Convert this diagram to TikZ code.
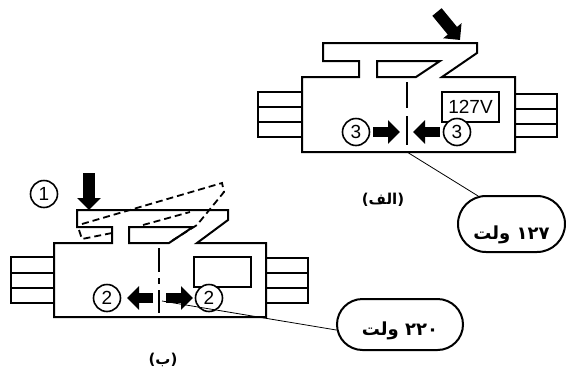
\documentclass[tikz,border=0pt]{standalone}
\usepackage{fontspec}
\setmainfont{Liberation Sans}
\newfontfamily\arabicfont[Script=Arabic]{DejaVu Sans}
\TeXXeTstate=1
\usetikzlibrary{arrows.meta,shapes.misc}

\begin{document}
\begin{tikzpicture}[
            x=1pt,
            y=-1pt,
            outline/.style={draw, line width=2pt, line join=miter},
            dashoutline/.style={draw, line width=1.8pt, dash pattern=on 7pt off 4pt},
            blockarrow/.style={draw, line width=10pt, -{Triangle[length=12pt,width=23pt]}},
            number/.style={circle, draw, line width=1.6pt, minimum size=27pt, inner sep=0pt, font=\fontsize{19}{19}\selectfont},
            pill/.style={rounded rectangle, draw, line width=2pt, inner sep=0pt, font=\arabicfont\bfseries\fontsize{18}{20}\selectfont},
            caption/.style={font=\arabicfont\bfseries\fontsize{15}{17}\selectfont},
            leader/.style={draw, line width=0.8pt}
        ]
        \useasboundingbox (0,0) rectangle (566,373);

        % Top switch (127 V)
        \draw[outline] (302,77) -- (359,77) -- (359,61) -- (323,61) -- (323,43) -- (477,43)
            -- (477,53) -- (442,77) -- (515,77) -- (515,152) -- (302,152) -- cycle;
        \draw[outline] (377,61) -- (440,61) -- (416,77) -- (377,77) -- cycle;
        \draw[outline] (302,92) -- (258,92) -- (258,137) -- (302,137);
        \draw[outline] (258,107) -- (302,107) (258,122) -- (302,122);
        \draw[outline] (515,94) -- (557,94) -- (557,137) -- (515,137);
        \draw[outline] (515,109) -- (557,109) (515,124) -- (557,124);
        \draw[outline] (407,82) -- (407,108) (407,116) -- (407,145);
        \node[outline, minimum width=57pt, minimum height=30pt, inner sep=0pt, font=\fontsize{19}{19}\selectfont] (rating) at (470.5,107) {127V};

        \node[number, fill=white] (threeL) at (356,132) {3};
        \node[number, fill=white] (threeR) at (457,132) {3};
        \coordinate (pushLa) at (373,132);
        \coordinate (pushLb) at (400,132);
        \coordinate (pushRa) at (440,132);
        \coordinate (pushRb) at (413,132);
        \draw[blockarrow] (pushLa) -- (pushLb);
        \draw[blockarrow] (pushRa) -- (pushRb);
        \coordinate (pressA) at (437,12);
        \coordinate (pressB) at (460,40);
        \draw[blockarrow, line width=12pt] (pressA) -- (pressB);

        \node[caption] (capA) at (383,200) {\beginR(الف)\endR};
        \node[pill, minimum width=107pt, minimum height=56pt] (volt127) at (511.5,224) {\smash{\raisebox{-15pt}{\beginR\beginL ۱۲۷\endL{} ولت\endR}}};
        \coordinate (tapA) at (407,152);
        \draw[leader] (tapA) -- (volt127.140);

        % Bottom switch (220 V)
        \draw[outline] (54,243) -- (112,243) -- (112,227) -- (77,227) -- (77,210) -- (228,210)
            -- (228,220) -- (197,243) -- (266,243) -- (266,317) -- (54,317) -- cycle;
        \draw[outline] (129,227) -- (193,227) -- (169,243) -- (129,243) -- cycle;
        \draw[outline] (54,257) -- (11,257) -- (11,303) -- (54,303);
        \draw[outline] (11,273) -- (54,273) (11,288) -- (54,288);
        \draw[outline] (266,258) -- (308,258) -- (308,303) -- (266,303);
        \draw[outline] (266,273) -- (308,273) (266,288) -- (308,288);
        \draw[outline, line width=1.6pt] (159,248) -- (159,272) (159,278) -- (159,284) (159,290) -- (159,313);
        \node[outline, minimum width=57pt, minimum height=30pt, inner sep=0pt] (blank) at (222.5,272) {};

        % Raised lever
        \draw[dashoutline] (79,230) -- (82,239) -- (112,233)
            (82,224) -- (222,183) -- (224,192) -- (197,225) -- (170,242)
            (143,225) -- (190,212);

        \node[number, fill=white] (twoL) at (107,298) {2};
        \node[number, fill=white] (twoR) at (209,298) {2};
        \node[number] (one) at (44,194) {1};
        \coordinate (pullLa) at (153,298);
        \coordinate (pullLb) at (127,298);
        \coordinate (pullRa) at (166,298);
        \coordinate (pullRb) at (193,298);
        \draw[blockarrow] (pullLa) -- (pullLb);
        \draw[blockarrow] (pullRa) -- (pullRb);
        \coordinate (downA) at (89,173);
        \coordinate (downB) at (89,210);
        \draw[blockarrow, line width=12pt] (downA) -- (downB);

        \node[caption] (capB) at (163,360) {\beginR(ب)\endR};
        \node[pill, minimum width=126pt, minimum height=51pt] (volt220) at (400,324.5) {\smash{\raisebox{-10.5pt}{\beginR\beginL ۲۲۰\endL{} ولت\endR}}};
        \coordinate (tapB) at (162,301);
        \draw[leader] (tapB) -- (volt220.185);

        \end{tikzpicture}
\end{document}
